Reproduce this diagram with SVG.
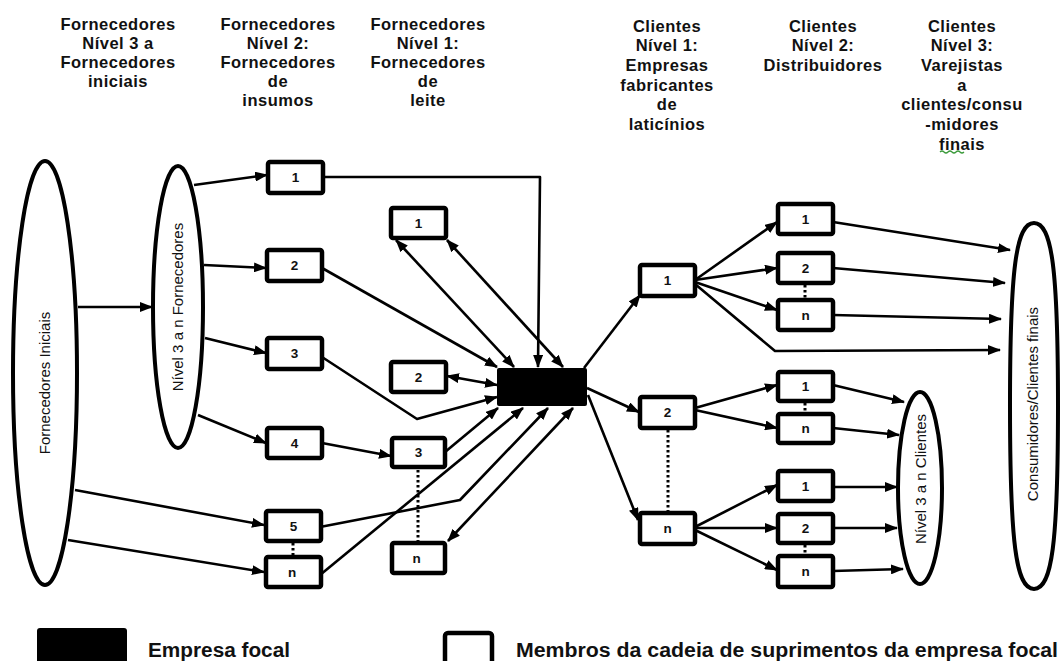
<svg xmlns="http://www.w3.org/2000/svg" width="1062" height="661" viewBox="0 0 1062 661">
  <style>
    .hdr { font-family: "Liberation Sans", Arial, sans-serif; font-weight: bold; font-size: 16.5px; letter-spacing: 0.5px; fill: #111; text-anchor: middle; }
    .box { fill: #fff; stroke: #000; stroke-width: 4.5; }
    .lbl { font-family: "Liberation Sans", Arial, sans-serif; font-weight: bold; font-size: 13.5px; fill: #111; text-anchor: middle; dominant-baseline: central; }
    .ell { fill: #fff; stroke: #000; stroke-width: 4; }
    .etx { font-family: "Liberation Sans", Arial, sans-serif; font-size: 15px; fill: #111; text-anchor: middle; dominant-baseline: central; }
    .ln { fill: none; stroke: #000; stroke-width: 2.6; stroke-linejoin: round; }
    .a { marker-end: url(#arr); }
    .b { marker-start: url(#arr); marker-end: url(#arr); }
    .dot { stroke: #000; stroke-width: 3; stroke-dasharray: 2.5 2.5; }
    .leg { font-family: "Liberation Sans", Arial, sans-serif; font-weight: bold; font-size: 20px; fill: #111; }
  </style>
  <defs>
    <marker id="arr" markerUnits="userSpaceOnUse" markerWidth="13" markerHeight="10" refX="12" refY="5" orient="auto-start-reverse">
      <path d="M0,0 L13,5 L0,10 z" fill="#000"/>
    </marker>
  </defs>

  <!-- column headings -->
  <g id="headings">
    <text class="hdr" x="118" y="30">Fornecedores<tspan x="118" dy="19">Nível 3 a</tspan><tspan x="118" dy="19">Fornecedores</tspan><tspan x="118" dy="19">iniciais</tspan></text>
    <text class="hdr" x="278" y="30">Fornecedores<tspan x="278" dy="19">Nível 2:</tspan><tspan x="278" dy="19">Fornecedores</tspan><tspan x="278" dy="19">de</tspan><tspan x="278" dy="19">insumos</tspan></text>
    <text class="hdr" x="428" y="30">Fornecedores<tspan x="428" dy="19">Nível 1:</tspan><tspan x="428" dy="19">Fornecedores</tspan><tspan x="428" dy="19">de</tspan><tspan x="428" dy="19">leite</tspan></text>
    <text class="hdr" x="667" y="31.5">Clientes<tspan x="667" dy="19.7">Nível 1:</tspan><tspan x="667" dy="19.7">Empresas</tspan><tspan x="667" dy="19.7">fabricantes</tspan><tspan x="667" dy="19.7">de</tspan><tspan x="667" dy="19.7">laticínios</tspan></text>
    <text class="hdr" x="823" y="31.5">Clientes<tspan x="823" dy="19.7">Nível 2:</tspan><tspan x="823" dy="19.7">Distribuidores</tspan></text>
    <text class="hdr" x="962" y="31.5">Clientes<tspan x="962" dy="19.7">Nível 3:</tspan><tspan x="962" dy="19.7">Varejistas</tspan><tspan x="962" dy="19.7">a</tspan><tspan x="962" dy="19.7">clientes/consu</tspan><tspan x="962" dy="19.7">-midores</tspan><tspan x="962" dy="19.7">finais</tspan></text>
    <path d="M940,152 q2,-2 4,0 t4,0 t4,0 t4,0 t4,0 t4,0" fill="none" stroke="#3a9a3a" stroke-width="1.2"/>
  </g>

  <!-- connectors -->
  <g id="connectors">
    <path class="ln a" d="M78,307 L152,307"/>
    <path class="ln a" d="M194,185 L267,175"/>
    <path class="ln a" d="M204,265 L266,268"/>
    <path class="ln a" d="M205,338 L266,353"/>
    <path class="ln a" d="M198,415 L266,443"/>
    <path class="ln a" d="M75,490 L264,525"/>
    <path class="ln a" d="M68,540 L264,572"/>

    <path class="ln a" d="M324,177 L540,177 L538,367"/>
    <path class="ln a" d="M322,268 L497,367"/>
    <path class="ln b" d="M396,240 L514,367"/>
    <path class="ln b" d="M447,240 L563,367"/>
    <path class="ln b" d="M447,376 L497,385"/>
    <path class="ln a" d="M322,357 L417,419 L497,397"/>
    <path class="ln a" d="M322,443 L391,456"/>
    <path class="ln a" d="M445,452 L498,408"/>
    <path class="ln a" d="M320,575 L523,408"/>
    <path class="ln a" d="M320,527 L460,500 L548,408"/>
    <path class="ln b" d="M448,541 L573,408"/>

    <path class="ln a" d="M584,368 L640,295"/>
    <path class="ln a" d="M587,388 L639,412"/>
    <path class="ln a" d="M588,395 L638,520"/>

    <path class="ln a" d="M695,280 L777,222"/>
    <path class="ln a" d="M695,280 L777,268"/>
    <path class="ln a" d="M695,282 L777,310"/>
    <path class="ln a" d="M695,284 L775,351 L1000,350"/>
    <path class="ln a" d="M833,222 L1010,250"/>
    <path class="ln a" d="M833,268 L1005,283"/>
    <path class="ln a" d="M833,315 L1001,319"/>

    <path class="ln a" d="M695,408 L777,385"/>
    <path class="ln a" d="M695,410 L777,428"/>
    <path class="ln a" d="M695,527 L777,485"/>
    <path class="ln a" d="M695,528 L777,528"/>
    <path class="ln a" d="M695,530 L777,570"/>

    <path class="ln a" d="M833,385 L904,402"/>
    <path class="ln a" d="M833,428 L899,435"/>
    <path class="ln a" d="M833,487 L897,487"/>
    <path class="ln a" d="M833,528 L897,528"/>
    <path class="ln a" d="M833,571 L903,569"/>

    <!-- dotted continuation marks -->
    <line class="dot" x1="293" y1="543" x2="293" y2="555"/>
    <line class="dot" x1="418" y1="470" x2="418" y2="542"/>
    <line class="dot" x1="668" y1="430" x2="668" y2="512"/>
    <line class="dot" x1="805" y1="285" x2="805" y2="299"/>
    <line class="dot" x1="805" y1="403" x2="805" y2="413"/>
    <line class="dot" x1="805" y1="545" x2="805" y2="555"/>
  </g>

  <!-- supplier groups -->
  <g id="fornecedores-iniciais">
    <ellipse class="ell" cx="45" cy="373" rx="32" ry="212"/>
    <text class="etx" transform="rotate(-90 44 383)" x="44" y="383">Fornecedores Iniciais</text>
  </g>
  <g id="nivel3-fornecedores">
    <ellipse class="ell" cx="178" cy="307" rx="25" ry="141"/>
    <text class="etx" transform="rotate(-90 177 307)" x="177" y="307">Nível 3 a n Fornecedores</text>
  </g>

  <!-- tier 2 suppliers -->
  <g id="f2-1"><rect class="box" x="268" y="162" width="55" height="31" rx="2"/><text class="lbl" x="295.5" y="177.5">1</text></g>
  <g id="f2-2"><rect class="box" x="267" y="250" width="55" height="31" rx="2"/><text class="lbl" x="294.5" y="265.5">2</text></g>
  <g id="f2-3"><rect class="box" x="267" y="338" width="55" height="31" rx="2"/><text class="lbl" x="294.5" y="353.5">3</text></g>
  <g id="f2-4"><rect class="box" x="267" y="428" width="55" height="30" rx="2"/><text class="lbl" x="294.5" y="443">4</text></g>
  <g id="f2-5"><rect class="box" x="266" y="511" width="55" height="30" rx="2"/><text class="lbl" x="293.5" y="526">5</text></g>
  <g id="f2-n"><rect class="box" x="266" y="557" width="55" height="30" rx="2"/><text class="lbl" x="292" y="572">n</text></g>

  <!-- tier 1 suppliers -->
  <g id="f1-1"><rect class="box" x="391" y="208" width="55" height="30" rx="2"/><text class="lbl" x="418.5" y="223">1</text></g>
  <g id="f1-2"><rect class="box" x="391" y="362" width="55" height="30" rx="2"/><text class="lbl" x="418.5" y="377">2</text></g>
  <g id="f1-3"><rect class="box" x="392" y="438" width="53" height="29" rx="2"/><text class="lbl" x="418.5" y="452.5">3</text></g>
  <g id="f1-n"><rect class="box" x="392" y="543" width="53" height="30" rx="2"/><text class="lbl" x="416.5" y="558">n</text></g>

  <!-- focal company -->
  <g id="empresa-focal"><rect x="497" y="368" width="90" height="38" rx="2" fill="#000"/></g>

  <!-- tier 1 customers -->
  <g id="c1-1"><rect class="box" x="640" y="265" width="55" height="31" rx="2"/><text class="lbl" x="667.5" y="280.5">1</text></g>
  <g id="c1-2"><rect class="box" x="640" y="397" width="55" height="31" rx="2"/><text class="lbl" x="667.5" y="412.5">2</text></g>
  <g id="c1-n"><rect class="box" x="640" y="513" width="55" height="31" rx="2"/><text class="lbl" x="667.5" y="528.5">n</text></g>

  <!-- tier 2 customers -->
  <g id="c2-1a"><rect class="box" x="778" y="204" width="55" height="30" rx="2"/><text class="lbl" x="805.5" y="219">1</text></g>
  <g id="c2-2a"><rect class="box" x="778" y="253" width="55" height="30" rx="2"/><text class="lbl" x="805.5" y="268">2</text></g>
  <g id="c2-na"><rect class="box" x="778" y="300" width="55" height="30" rx="2"/><text class="lbl" x="805.5" y="315">n</text></g>
  <g id="c2-1b"><rect class="box" x="778" y="372" width="55" height="29" rx="2"/><text class="lbl" x="805.5" y="386.5">1</text></g>
  <g id="c2-nb"><rect class="box" x="778" y="414" width="55" height="29" rx="2"/><text class="lbl" x="805.5" y="428.5">n</text></g>
  <g id="c2-1c"><rect class="box" x="778" y="471" width="55" height="30" rx="2"/><text class="lbl" x="805.5" y="486">1</text></g>
  <g id="c2-2c"><rect class="box" x="778" y="514" width="55" height="29" rx="2"/><text class="lbl" x="805.5" y="528.5">2</text></g>
  <g id="c2-nc"><rect class="box" x="778" y="556" width="55" height="31" rx="2"/><text class="lbl" x="805.5" y="571.5">n</text></g>

  <!-- customer groups -->
  <g id="nivel3-clientes">
    <ellipse class="ell" cx="920" cy="488" rx="22" ry="96"/>
    <text class="etx" transform="rotate(-90 920 479)" x="920" y="479">Nível 3 a n Clientes</text>
  </g>
  <g id="consumidores">
    <!-- full-bodied oval: rounder shoulders than a true ellipse -->
    <path class="ell" d="M1034,223 C1052,223 1058,269 1058,406 C1058,543 1052,589 1034,589 C1016,589 1010,543 1010,406 C1010,269 1016,223 1034,223 Z"/>
    <text class="etx" transform="rotate(-90 1032 404)" x="1032" y="404">Consumidores/Clientes finais</text>
  </g>

  <!-- legend -->
  <g id="legenda">
    <rect x="37" y="628" width="90" height="44" rx="3" fill="#000"/>
    <text class="leg" x="148" y="657" textLength="142" lengthAdjust="spacingAndGlyphs">Empresa focal</text>
    <rect x="445" y="633" width="47" height="40" rx="3" fill="#fff" stroke="#000" stroke-width="4.5"/>
    <text class="leg" x="516" y="657" textLength="542" lengthAdjust="spacingAndGlyphs">Membros da cadeia de suprimentos da empresa focal</text>
  </g>
</svg>
